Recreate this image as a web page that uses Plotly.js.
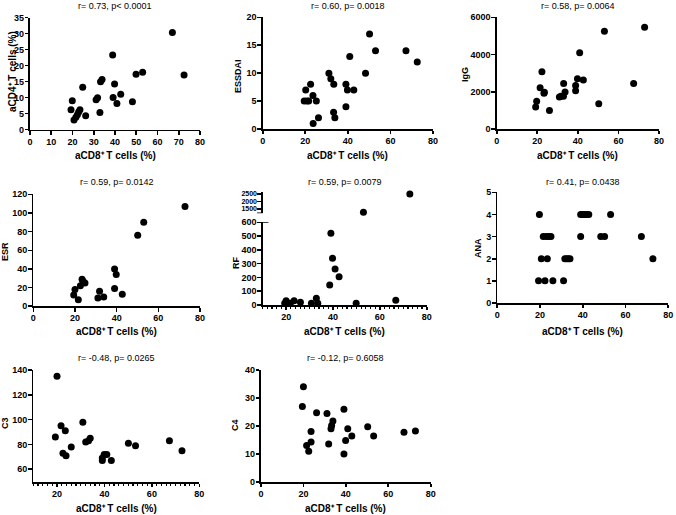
<!DOCTYPE html>
<html>
<head>
<meta charset="utf-8">
<script src="https://cdn.plot.ly/plotly-3.0.1.min.js"></script>
<style>html,body{margin:0;padding:0;background:#fff;}#chart{width:676px;height:515px;}</style>
</head>
<body>
<div id="chart"></div>
<script>
// ---- data ----
const cd4X = [19.3,19.9,20.7,21.6,22.3,22.9,23.5,24.8,26.2,31.1,31.8,32.9,33.2,33.9,38.9,39.1,39.8,40.9,42.7,48.2,49.9,53.0,67.0,72.5];
const cd4Y = [6.2,9.0,3.0,3.8,4.6,5.5,6.2,13.2,4.3,9.3,9.9,5.3,14.9,15.6,23.3,10.0,14.2,8.1,11.0,8.7,17.3,17.9,30.3,17.0];

const essdaiX = [19.5,20.2,20.8,21.6,22.5,23.6,23.7,25.2,26.2,31.1,32.0,33.3,33.4,33.9,39.1,39.1,39.8,40.9,42.8,48.3,50.2,53.0,67.3,72.6];
const essdaiY = [5,7,5,5,8,6,1,5,2,10,9,3,8,2,4,8,7,13,7,10,17,14,14,12];

const iggX = [19.2,19.7,21.4,22.3,23.3,23.5,26.0,30.9,31.7,32.9,33.0,33.7,38.9,38.9,39.8,40.9,42.7,50.3,53.1,67.5,72.9];
const iggY = [1180,1490,2220,3080,1920,1970,990,1720,1760,1760,2440,1990,2330,2060,2700,4100,2630,1360,5250,2450,5460];

const esrX = [19.4,20.0,21.6,22.6,23.4,23.8,24.8,31.0,31.8,33.8,39.0,39.0,39.8,42.7,50.1,53.0,72.8];
const esrY = [12,18,7,22,29,27,25,9,16,10,40,19,34,13,76,90,107];

const rfX = [19.4,20.0,21.8,23.4,26.1,30.8,32.9,33.5,38.6,39.1,39.8,40.9,42.6,49.9,53.0,66.8,72.8];
const rfY = [12,31,12,31,20,12,49,12,145,520,339,261,205,12,1280,34,2500];

const anaX = [19.3,19.7,20.6,21.5,22.3,22.9,23.4,24.1,25.1,26.0,31.0,31.6,32.4,33.2,34.0,39.0,39.0,39.8,40.7,41.7,42.8,48.4,50.2,53.0,67.4,72.8];
const anaY = [1,4,2,3,1,3,2,3,3,1,1,2,2,2,2,4,3,4,4,4,4,3,3,4,3,2];

const c3X = [19.3,20.0,21.7,22.5,23.5,23.8,26.0,30.9,32.1,33.3,34.0,39.1,39.1,39.9,41.0,42.9,50.1,53.1,67.4,72.7];
const c3Y = [86,135,95,73,91,71,78,98,82,83,85,67,69,72,72,67,81,79,83,75];

const c4X = [19.5,20.0,21.5,22.5,23.6,23.6,26.2,31.1,31.9,33.0,33.3,33.9,39.1,39.1,39.9,40.9,42.8,50.3,53.1,67.4,72.8];
const c4Y = [27,34,13,11,14.3,18,24.7,24.5,13.6,19,20.2,21.8,26,10,14.8,19,16.4,19.7,16.4,17.8,18.2];

const panelTitles = ["r= 0.73, p< 0.0001","r= 0.60, p= 0.0018","r= 0.58, p= 0.0064","r= 0.59, p= 0.0142","r= 0.59, p= 0.0079","r= 0.41, p= 0.0438","r= -0.48, p= 0.0265","r= -0.12, p= 0.6058"];
const yTitles = ["aCD4\u207A T cells (%)","ESSDAI","IgG","ESR","RF","ANA","C3","C4"];
const xTitle = "aCD8\u207A T cells (%)";
const rfUpperTicks = [1500, 2000, 2500];
const rfBreak = 900;

// ---- layout geometry (pixels in the 676x515 figure) ----
const W = 676, H = 515;
const FONT = "Liberation Sans, Arial, Helvetica, sans-serif";
const px = v => v / W;
const py = v => 1 - v / H;

// [xLeft, xRight, yTop, yBottom, yTitleX]
const geo = [
  [30, 200, 17.5, 129.5, 12],
  [262.7, 433, 17.3, 129, 238],
  [496.7, 659, 17.3, 129, 465],
  [33.3, 200, 194.3, 306.3, 5],
  [262.7, 426.7, 222.3, 305, 236],
  [497.3, 668.3, 192.3, 303, 478],
  [33.3, 199.3, 370, 481.7, 5],
  [261, 430.7, 370, 482, 235]
];
const titleY = [6, 6, 6, 181.7, 181.7, 181.7, 357.7, 357.7];
const xTitleY = [155.7, 155.7, 155.7, 331.7, 331.7, 331.7, 508.3, 508.3];
const yTitleY = [72, 76, 75, 252, 263, 248, 423, 425];

const marker = {color: '#000', size: 7};
const data = [];
function addTrace(x, y, xa, ya) {
  data.push({type: 'scatter', mode: 'markers', x: x, y: y, xaxis: xa, yaxis: ya,
             marker: marker, cliponaxis: false, hoverinfo: 'x+y'});
}
addTrace(cd4X, cd4Y, 'x', 'y');
addTrace(essdaiX, essdaiY, 'x2', 'y2');
addTrace(iggX, iggY, 'x3', 'y3');
addTrace(esrX, esrY, 'x4', 'y4');
const rfLowX = [], rfLowY = [], rfHighX = [], rfHighY = [];
rfX.forEach((v, i) => { if (rfY[i] > rfBreak) { rfHighX.push(v); rfHighY.push(rfY[i]); } else { rfLowX.push(v); rfLowY.push(rfY[i]); } });
addTrace(rfLowX, rfLowY, 'x5', 'y5');
addTrace(rfHighX, rfHighY, 'x5', 'y9');
addTrace(anaX, anaY, 'x6', 'y6');
addTrace(c3X, c3Y, 'x7', 'y7');
addTrace(c4X, c4Y, 'x8', 'y8');

function boldTicks(lo, hi, step) {
  const vals = [], txt = [];
  for (let v = Math.ceil(lo / step) * step; v <= hi + 1e-9; v += step) { vals.push(v); txt.push('<b>' + v + '</b>'); }
  return {vals, txt};
}
function axisBase(size) {
  return {showgrid: false, zeroline: false, showline: true, linecolor: '#000', linewidth: 1.8,
          ticks: 'outside', ticklen: 3.5, tickwidth: 1.6, tickcolor: '#000',
          tickfont: {family: FONT, size: size || 9, color: '#000', weight: 700},
          ticklabelstandoff: -1, fixedrange: true, automargin: false};
}
const xRanges = [[0,80],[0,80],[0,80],[0,80],[10,80],[0,80],[10,80],[0,80]];
const xDticks = [10,20,20,20,20,20,20,20];
const yRanges = [[0,35],[0,20],[0,6000],[0,120],[0,600],[0,5],[50,140],[0,40]];
const yDticks = [5,5,2000,20,100,1,20,10];

const layout = {
  width: W, height: H, margin: {l: 0, r: 0, t: 0, b: 0},
  paper_bgcolor: '#fff', plot_bgcolor: 'rgba(0,0,0,0)', showlegend: false,
  font: {family: FONT, color: '#000', size: 9},
  annotations: [], shapes: []
};
for (let i = 0; i < 8; i++) {
  const n = i === 0 ? '' : String(i + 1);
  const g = geo[i];
  const xa = axisBase();
  xa.domain = [px(g[0]), px(g[1])];
  xa.range = xRanges[i];
  const xt = boldTicks(xRanges[i][0], xRanges[i][1], xDticks[i]);
  xa.tickvals = xt.vals; xa.ticktext = xt.txt;
  xa.anchor = 'y' + n;
  if (i === 4 || i === 6) {
    xa.minor = {dtick: 2, tick0: 0, ticklen: 2.5, tickwidth: 1.2, tickcolor: '#000', ticks: 'outside', showgrid: false};
  }
  const ya = axisBase();
  ya.domain = [py(g[3]), py(g[2])];
  ya.range = yRanges[i];
  const yt = boldTicks(yRanges[i][0], yRanges[i][1], yDticks[i]);
  ya.tickvals = yt.vals; ya.ticktext = yt.txt;
  ya.anchor = 'x' + n;
  layout['xaxis' + n] = xa;
  layout['yaxis' + n] = ya;

  const cx = px((g[0] + g[1]) / 2);
  layout.annotations.push({text: panelTitles[i], xref: 'paper', yref: 'paper', x: cx, y: py(titleY[i]),
    xanchor: 'center', yanchor: 'middle', showarrow: false, font: {family: FONT, size: 9, color: '#000'}});
  layout.annotations.push({text: xTitle, xref: 'paper', yref: 'paper', x: cx, y: py(xTitleY[i]),
    xanchor: 'center', yanchor: 'middle', showarrow: false, font: {family: FONT, size: 10, color: '#000', weight: 700}});
  layout.annotations.push({text: yTitles[i], xref: 'paper', yref: 'paper', x: px(g[4]), y: py(yTitleY[i]),
    xanchor: 'center', yanchor: 'middle', textangle: -90, showarrow: false,
    font: {family: FONT, size: i === 0 ? 10 : 9, color: '#000', weight: 700}});
}
// RF upper (broken) segment
const up = axisBase(7);
up.domain = [py(213.3), py(192)];
up.range = [1213, 2633];
up.tickvals = rfUpperTicks;
up.ticktext = rfUpperTicks.map(v => '<b>' + v + '</b>');
up.anchor = 'x5';
layout.yaxis9 = up;
// break caps
layout.shapes.push({type: 'line', xref: 'x5 domain', yref: 'y5', x0: -0.035, x1: 0.035, y0: 600, y1: 600, line: {color: '#000', width: 1.6}});
layout.shapes.push({type: 'line', xref: 'x5 domain', yref: 'y9', x0: -0.035, x1: 0.0, y0: 1213, y1: 1213, line: {color: '#000', width: 1.6}});

Plotly.newPlot('chart', data, layout, {staticPlot: true, displayModeBar: false});
</script>
</body>
</html>
